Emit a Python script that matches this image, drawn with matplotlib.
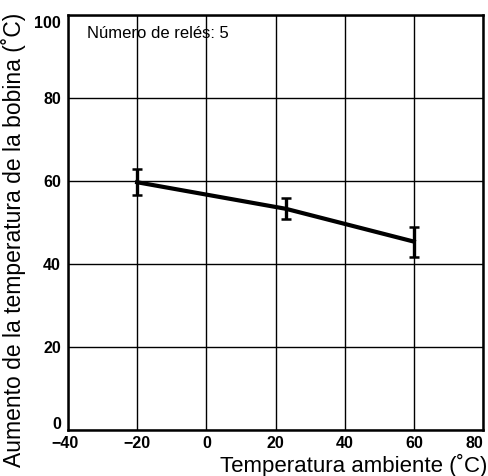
import matplotlib
matplotlib.use("Agg")
import matplotlib.pyplot as plt
import matplotlib.transforms as mtransforms

# Data
temp_ambiente = [-20, 23, 60]
aumento = [59.7, 53.3, 45.4]
err_low = [3.0, 2.5, 3.6]
err_high = [3.3, 2.6, 3.5]

x_ticks = [-40, -20, 0, 20, 40, 60, 80]
y_ticks = [0, 20, 40, 60, 80, 100]

plt.rcParams['font.family'] = ['Liberation Sans', 'DejaVu Sans']

fig = plt.figure(figsize=(4.89, 4.76), dpi=100)
ax = fig.add_axes([68/489, 1-430/476, 415/489, 415/476])

ax.set_xlim(-40, 80)
ax.set_ylim(0, 100)
ax.set_xticks(x_ticks)
ax.set_yticks(y_ticks)
ax.grid(True, color='black', linewidth=1.0)
ax.set_axisbelow(True)
ax.tick_params(axis='x', length=0, pad=4)
ax.tick_params(axis='y', length=0, pad=5)
for lbl in ax.get_xticklabels() + ax.get_yticklabels():
    lbl.set_fontsize(11.5)
    lbl.set_fontweight('bold')
for s in ax.spines.values():
    s.set_linewidth(1.8)
    s.set_color('black')

# nudge edge labels like the reference
ylbls = ax.get_yticklabels()
ylbls[0].set_transform(ylbls[0].get_transform() +
                       mtransforms.ScaledTranslation(0, 7/100, fig.dpi_scale_trans))
ylbls[-1].set_transform(ylbls[-1].get_transform() +
                        mtransforms.ScaledTranslation(0, -7/100, fig.dpi_scale_trans))
xlbls = ax.get_xticklabels()
xlbls[-1].set_horizontalalignment('right')
xlbls[-1].set_transform(xlbls[-1].get_transform() +
                        mtransforms.ScaledTranslation(0/100, 0, fig.dpi_scale_trans))
xlbls[0].set_transform(xlbls[0].get_transform() +
                       mtransforms.ScaledTranslation(-3/100, 0, fig.dpi_scale_trans))

ax.errorbar(temp_ambiente, aumento, yerr=[err_low, err_high], color='black',
            linewidth=3, elinewidth=2.4, capsize=3.3, capthick=1.8)

ax.text(87/489, 1-33/476, 'Número de relés: 5', transform=fig.transFigure,
        fontsize=12, ha='left', va='center')

fig.text(14/489, 1-240/476, 'Aumento de la temperatura de la bobina (˚C)',
         rotation=90, fontsize=16.5, ha='center', va='center')
fig.text(487/489, 1-465/476, 'Temperatura ambiente (˚C)',
         fontsize=16, ha='right', va='center')

fig.savefig('out.png', dpi=100, facecolor='white')
